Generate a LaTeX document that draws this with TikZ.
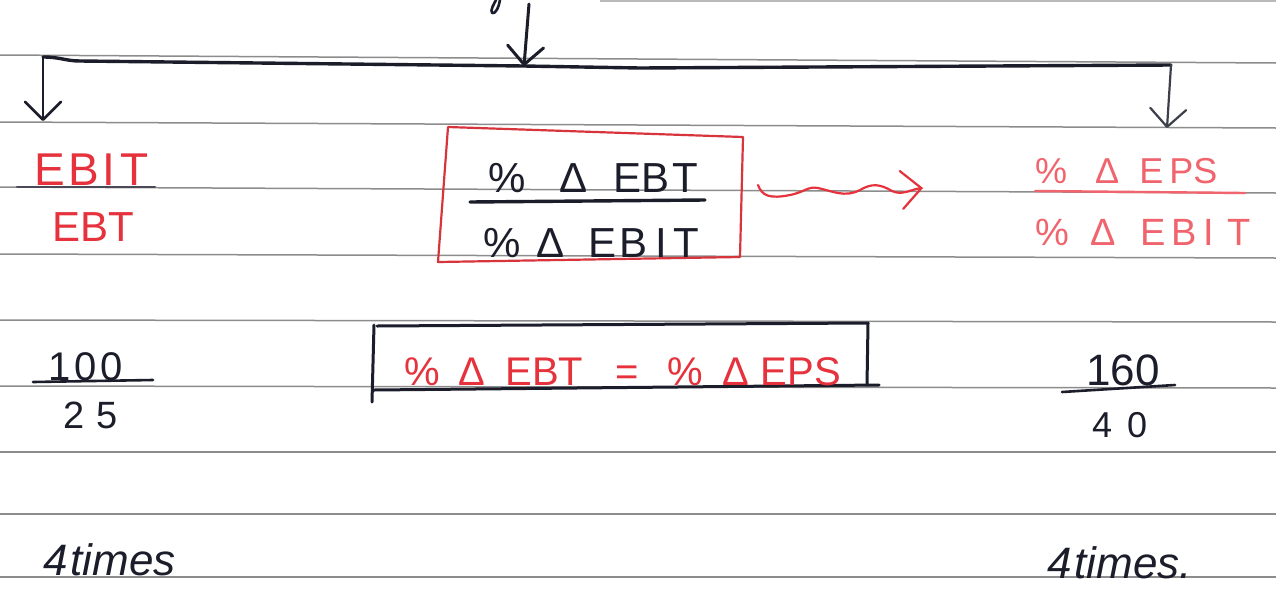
\documentclass[tikz,border=0pt]{standalone}
\usepackage{fontspec}
\setmainfont{Liberation Sans}
\usetikzlibrary{arrows.meta}

\definecolor{ink}{HTML}{1B1D2A}
\definecolor{redink}{HTML}{E5323C}
\definecolor{palered}{HTML}{F0646E}
\definecolor{boxred}{HTML}{D8343C}
\definecolor{rulegray}{HTML}{8C8C8C}

\newcommand\gap[1]{\hspace{#1pt}}

\begin{document}
\begin{tikzpicture}[x=1pt,y=-1pt,
  ruleline/.style={draw=rulegray,line width=1.5pt},
  pen/.style={draw=ink,line width=3pt,line cap=round,line join=round},
  barb/.style={-{Straight Barb[length=18pt,width=36pt,line join=round,line cap=round]}},
  txt/.style={inner sep=0pt,anchor=base west},
  fs/.style={font=\fontsize{#1}{#1}\selectfont},
]
\useasboundingbox (0,0) rectangle (1276,592);
\fill[white] (0,0) rectangle (1276,592);

% ruled paper
\draw[ruleline,draw=rulegray!60] (600,1) -- (1276,1);
\foreach \a/\b in {55/63,122/128,187/193,254/258,320/322,386/388,452/452,514/514,577/577}
  \draw[ruleline] (0,\a) -- (1276,\b);

% pen stroke left over from the line above
\draw[pen,line width=2.6pt] (500,0) .. controls (499,7) and (495,15) .. (492,13) .. controls (490,10) and (494,4) .. (496,0);

% branching arrows
\coordinate (src) at (529,4);
\coordinate (hub) at (524,66);
\coordinate (bl) at (43,57);
\coordinate (br) at (1171,65);
\coordinate (ltip) at (43,121);
\coordinate (rtip) at (1167,128);
\draw[pen,barb] (src) -- (hub);
\draw[pen,line width=3.4pt] (bl) .. controls (60,57) and (66,61) .. (80,61) -- (hub) -- (640,68) -- (br);
\draw[pen,barb,line width=2.6pt] (bl) -- (ltip);
\draw[pen,barb,line width=2.2pt,draw=ink!85] (br) -- (rtip);

% left column
\node[txt,fs=46,text=redink] (lnum) at (34,185) {E\gap{4}B\gap{3}I\gap{5}T};
\draw[draw=ink!80,line width=2pt,line cap=round] (17,187) -- (155,187);
\node[txt,fs=42,text=redink] (lden) at (52,241) {EBT};

% boxed ratio in the middle
\coordinate (b1) at (448,127);
\coordinate (b2) at (743,137);
\coordinate (b3) at (740,257);
\coordinate (b4) at (438,262);
\draw[boxred,line width=2.2pt,line join=round] (b1) -- (b2) -- (b3) -- (b4) -- cycle;
\node[txt,fs=42,text=ink] (mnum) at (488,192) {\%\gap{34}Δ\gap{26}E\gap{0}B\gap{3}T};
\draw[pen,line width=3.4pt] (470,202) -- (705,200);
\node[txt,fs=42,text=ink] (mden) at (483,257) {\%\gap{16}Δ\gap{24}E\gap{3}B\gap{8}I\gap{6}T};

% wavy arrow
\coordinate (wstart) at (758,185);
\coordinate (wtip) at (923,188);
\draw[redink,line width=2.2pt,line cap=round,-{Straight Barb[length=20pt,width=38pt,line cap=round]}]
  (wstart) .. controls (762,196) and (770,199) .. (790,195)
  .. controls (805,192) and (808,186) .. (818,188)
  .. controls (832,191) and (845,198) .. (860,190)
  .. controls (872,183) and (880,184) .. (892,191)
  .. controls (902,196) and (912,189) .. (wtip);

% right column
\node[txt,fs=36,text=palered] (rnum) at (1035,183) {\%\gap{28}Δ\gap{20}E\gap{6}P\gap{0}S};
\draw[palered,line width=2.4pt,line cap=round] (1035,191) -- (1245,193);
\node[txt,fs=38,text=palered] (rden) at (1035,245) {\%\gap{22}Δ\gap{24}E\gap{6}B\gap{6}I\gap{14}T};

% boxed equality
\coordinate (k1) at (377,326);
\coordinate (k2) at (868,323);
\coordinate (k3) at (867,385);
\coordinate (k4) at (879,385);
\coordinate (k5) at (374,390);
\coordinate (k6) at (372,402);
\draw[pen] (k1) -- (k2);
\draw[pen] (k2) -- (k3);
\draw[pen] (k5) -- (k4);
\draw[pen] (374,325) -- (k6);
\node[txt,fs=40,text=redink] (eq) at (404,385) {\%\gap{19}Δ\gap{20}EBT\gap{32}=\gap{29}\%\gap{19}Δ\gap{12}EPS};

% worked numbers
\node[txt,fs=40,text=ink] (lhi) at (48,380) {1\gap{4}0\gap{4}0};
\draw[pen,line width=2.6pt] (33,382) -- (153,380);
\node[txt,fs=38,text=ink] (llo) at (63,428) {2\gap{12}5};

\node[txt,fs=44,text=ink] (rhi) at (1086,385) {160};
\draw[pen,line width=2.6pt] (1062,392) -- (1175,385);
\node[txt,fs=36,text=ink] (rlo) at (1092,437) {4\gap{15}0};

% results
\node[txt,fs=44,text=ink,font=\fontsize{44}{44}\selectfont\itshape] (lres) at (43,575) {4\gap{3}times};
\node[txt,fs=44,text=ink,font=\fontsize{44}{44}\selectfont\itshape] (rres) at (1047,578) {4\gap{3}times.};
\end{tikzpicture}
\end{document}
